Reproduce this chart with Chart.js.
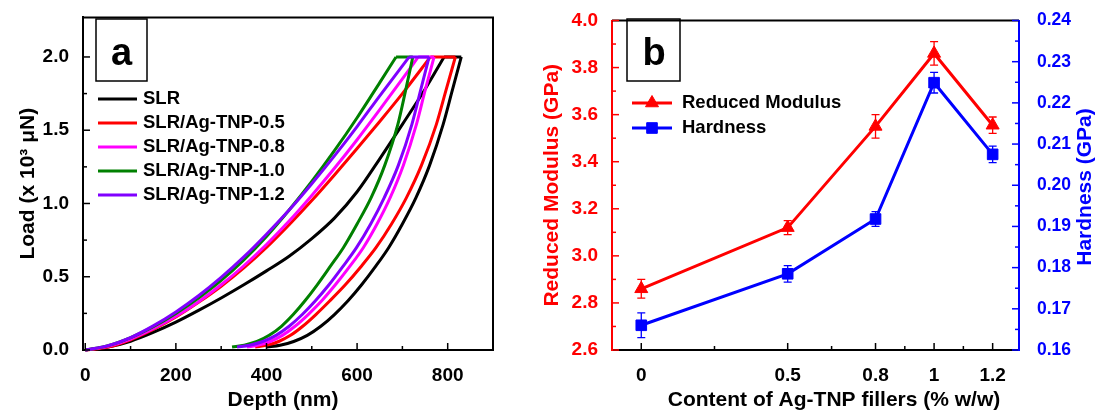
<!DOCTYPE html>
<html>
<head>
<meta charset="utf-8">
<script src="https://cdn.jsdelivr.net/npm/chart.js@4.4.1/dist/chart.umd.min.js"></script>
<style>
body { margin: 0; background: #fff; }
#wrap { position: relative; width: 1095px; height: 413px; }
#panelA { position: absolute; left: 0; top: 0; }
#panelB { position: absolute; left: 530px; top: 0; }
</style>
</head>
<body>
<div id="wrap">
<canvas id="panelA" width="530" height="413"></canvas>
<canvas id="panelB" width="565" height="413"></canvas>
</div>
<script>
// panel a : load-depth curves (depth in nm, load in 10^3 uN)
var samples = ['SLR', 'SLR/Ag-TNP-0.5', 'SLR/Ag-TNP-0.8', 'SLR/Ag-TNP-1.0', 'SLR/Ag-TNP-1.2'];
var sampleColors = ['#000000', '#ff0000', '#ff00ff', '#008000', '#8000ff'];

var loadDepth = [
    [0, 50, 100, 150, 200, 250, 300, 350, 400, 450, 500, 550, 600, 650, 700, 750, 792],
    [0, 50, 100, 150, 200, 250, 300, 350, 400, 450, 500, 550, 600, 650, 700, 762],
    [0, 50, 100, 150, 200, 250, 300, 350, 400, 450, 500, 550, 600, 650, 700, 735],
    [0, 50, 100, 150, 200, 250, 300, 350, 400, 450, 500, 550, 600, 650, 686],
    [0, 50, 100, 150, 200, 250, 300, 350, 400, 450, 500, 550, 600, 650, 715]
];
var loadForce = [
    [0, 0.02, 0.06, 0.12, 0.19, 0.27, 0.355, 0.445, 0.54, 0.64, 0.76, 0.9, 1.08, 1.305, 1.54, 1.78, 2.0],
    [0, 0.02, 0.07, 0.14, 0.225, 0.325, 0.435, 0.56, 0.7, 0.855, 1.02, 1.195, 1.375, 1.56, 1.75, 2.0],
    [0, 0.025, 0.075, 0.145, 0.23, 0.33, 0.445, 0.575, 0.72, 0.88, 1.055, 1.24, 1.435, 1.64, 1.85, 2.0],
    [0, 0.03, 0.085, 0.16, 0.25, 0.355, 0.475, 0.615, 0.775, 0.955, 1.15, 1.36, 1.585, 1.825, 2.0],
    [0, 0.03, 0.085, 0.165, 0.26, 0.37, 0.495, 0.635, 0.79, 0.955, 1.135, 1.325, 1.525, 1.735, 2.0]
];
// unloading starts at the end of the hold at 2.0
var unloadForce = [2.0, 1.77, 1.54, 1.26, 1.04, 0.86, 0.70, 0.567, 0.445, 0.336, 0.242, 0.162, 0.10, 0.058, 0.033, 0.02];
var unloadDepth = [
    [830, 810, 790, 760, 730, 700, 670, 640, 610, 580, 550, 520, 490, 460, 430, 401],
    [817, 796, 775, 742, 709, 676, 642, 608, 574, 540, 509, 480, 453, 427, 401, 375],
    [770, 750, 731, 702, 673, 644, 614, 583, 552, 522, 492, 463, 435, 408, 382, 357],
    [723, 707, 690, 661, 631, 600, 570, 540, 512, 485, 459, 433, 406, 379, 351, 324],
    [759, 740, 721, 691, 660, 630, 599, 568, 538, 508, 479, 450, 421, 392, 363, 335]
];

var depthTicks = [0, 200, 400, 600, 800];
var depthMinor = [100, 300, 500, 700];
var forceTicks = [0, 0.5, 1.0, 1.5, 2.0];
var forceMinor = [0.25, 0.75, 1.25, 1.75];

// panel b : modulus and hardness vs filler content
var filler = [0, 0.5, 0.8, 1.0, 1.2];
var modulus = [2.86, 3.12, 3.55, 3.86, 3.555];
var modulusErr = [0.04, 0.03, 0.05, 0.05, 0.035];
var hardness = [0.166, 0.1785, 0.1918, 0.2249, 0.2075];
var hardnessErr = [0.003, 0.002, 0.0018, 0.0025, 0.002];

var fillerTicks = [0, 0.5, 0.8, 1, 1.2];
var fillerMinor = [0.25, 0.65, 0.9, 1.1];
var modTicks = [2.6, 2.8, 3.0, 3.2, 3.4, 3.6, 3.8, 4.0];
var modMinor = [2.7, 2.9, 3.1, 3.3, 3.5, 3.7, 3.9];
var hardTicks = [0.16, 0.17, 0.18, 0.19, 0.20, 0.21, 0.22, 0.23, 0.24];
var hardMinor = [0.165, 0.175, 0.185, 0.195, 0.205, 0.215, 0.225, 0.235];

var FONT = '"Liberation Sans", Arial, sans-serif';
Chart.defaults.font.family = FONT;
Chart.defaults.font.weight = 'bold';
Chart.defaults.color = '#000';

function pts(xs, ys) {
    return xs.map(function(x, i) { return {x: x, y: ys[i]}; });
}

function tickBuilder(major, minor) {
    return function(scale) {
        scale.ticks = major.concat(minor).sort(function(a, b) { return a - b; })
            .map(function(v) { return {value: v}; });
    };
}

function tickLabel(major, digits) {
    return function(v) {
        if (major.indexOf(v) < 0) return '';
        return digits == null ? String(v) : v.toFixed(digits);
    };
}

// frame, inward ticks, error bars, legend, panel letter, extra titles
var panelDecor = {
    id: 'panelDecor',
    beforeDatasetsDraw: function(chart) {
        var ctx = chart.ctx;
        chart.data.datasets.forEach(function(ds) {
            if (!ds.errors) return;
            var xs = chart.scales.x, ys = chart.scales[ds.yAxisID];
            ctx.save();
            ctx.strokeStyle = ds.borderColor;
            ctx.lineWidth = 1.3;
            ds.data.forEach(function(p, i) {
                var px = xs.getPixelForValue(p.x);
                var top = ys.getPixelForValue(p.y + ds.errors[i]);
                var bot = ys.getPixelForValue(p.y - ds.errors[i]);
                ctx.beginPath();
                ctx.moveTo(px, top); ctx.lineTo(px, bot);
                ctx.moveTo(px - 4, top); ctx.lineTo(px + 4, top);
                ctx.moveTo(px - 4, bot); ctx.lineTo(px + 4, bot);
                ctx.stroke();
            });
            ctx.restore();
        });
    },
    afterDraw: function(chart, args, opts) {
        var ctx = chart.ctx, area = chart.chartArea;
        ctx.save();
        ctx.strokeStyle = '#000';
        ctx.lineWidth = 2;
        ctx.beginPath();
        ctx.moveTo(area.left, area.top);
        ctx.lineTo(area.right, area.top);
        if (opts.closeRight) ctx.lineTo(area.right, area.bottom);
        ctx.stroke();

        Object.keys(chart.scales).forEach(function(id) {
            var s = chart.scales[id];
            ctx.strokeStyle = s.options.border.color;
            ctx.lineWidth = 1.5;
            s.ticks.forEach(function(t) {
                var len = t.label ? 7 : 4;
                var p = s.getPixelForValue(t.value);
                ctx.beginPath();
                if (s.position === 'bottom') { ctx.moveTo(p, area.bottom); ctx.lineTo(p, area.bottom - len); }
                else if (s.position === 'left') { ctx.moveTo(area.left, p); ctx.lineTo(area.left + len, p); }
                else { ctx.moveTo(area.right, p); ctx.lineTo(area.right - len, p); }
                ctx.stroke();
            });
        });

        var b = opts.letter;
        ctx.strokeStyle = '#000';
        ctx.lineWidth = 1.5;
        ctx.strokeRect(b.box[0], b.box[1], b.box[2], b.box[3]);
        ctx.fillStyle = '#000';
        ctx.font = 'bold 38px ' + FONT;
        ctx.textAlign = 'center';
        ctx.textBaseline = 'alphabetic';
        ctx.fillText(b.text, b.x, b.y);

        var lg = opts.legend;
        ctx.font = 'bold ' + lg.size + 'px ' + FONT;
        ctx.textAlign = 'left';
        ctx.textBaseline = 'middle';
        lg.items.forEach(function(it, i) {
            var y = lg.y0 + i * lg.dy;
            ctx.strokeStyle = it.color;
            ctx.fillStyle = it.color;
            ctx.lineWidth = 3;
            ctx.beginPath();
            ctx.moveTo(lg.x0, y); ctx.lineTo(lg.x1, y);
            ctx.stroke();
            if (it.marker) {
                ctx.lineWidth = 1;
                Chart.helpers.drawPoint(ctx, {pointStyle: it.marker, radius: 7.5, rotation: 0, borderWidth: 1}, (lg.x0 + lg.x1) / 2, y);
            }
            ctx.fillStyle = '#000';
            ctx.fillText(it.label, lg.tx, y);
        });

        (opts.texts || []).forEach(function(t) {
            ctx.save();
            ctx.translate(t.x, t.y);
            ctx.rotate(t.rotate || 0);
            ctx.fillStyle = t.color;
            ctx.font = 'bold ' + t.size + 'px ' + FONT;
            ctx.textAlign = 'center';
            ctx.textBaseline = 'middle';
            ctx.fillText(t.text, 0, 0);
            ctx.restore();
        });
        ctx.restore();
    }
};

// ---------- panel a ----------
var curveSets = [];
samples.forEach(function(name, i) {
    var last = loadDepth[i][loadDepth[i].length - 1];
    var common = {
        label: name, borderColor: sampleColors[i], backgroundColor: sampleColors[i],
        borderWidth: 3, pointRadius: 0, fill: false, clip: 4,
        borderJoinStyle: 'round', order: samples.length - i
    };
    curveSets.push(Object.assign({data: pts(loadDepth[i], loadForce[i]), cubicInterpolationMode: 'monotone'}, common));
    curveSets.push(Object.assign({data: pts([last, unloadDepth[i][0]], [2.0, 2.0]), tension: 0}, common));
    curveSets.push(Object.assign({data: pts(unloadDepth[i], unloadForce), cubicInterpolationMode: 'monotone'}, common));
});

new Chart(document.getElementById('panelA'), {
    type: 'line',
    data: {datasets: curveSets},
    options: {
        responsive: false,
        animation: false,
        devicePixelRatio: 1,
        layout: {padding: {top: 16, right: 37, left: 0, bottom: 0}},
        plugins: {
            legend: {display: false},
            tooltip: {enabled: false},
            panelDecor: {
                closeRight: true,
                letter: {text: 'a', box: [96, 19, 51, 62], x: 121.5, y: 65},
                legend: {
                    x0: 98, x1: 137, tx: 143, y0: 99, dy: 24, size: 18.5,
                    items: samples.map(function(s, i) { return {label: s, color: sampleColors[i]}; })
                },
                texts: [
                    {text: 'Depth (nm)', x: 283, y: 400, color: '#000', size: 21}
                ]
            }
        },
        scales: {
            x: {
                type: 'linear', min: -5, max: 900,
                afterBuildTicks: tickBuilder(depthTicks, depthMinor),
                afterFit: function(s) { s.height = 63; },
                grid: {display: false},
                border: {display: true, color: '#000', width: 2},
                ticks: {callback: tickLabel(depthTicks, 0), font: {size: 19, weight: 'bold'}, color: '#000', padding: 6, maxRotation: 0, autoSkip: false}
            },
            y: {
                type: 'linear', min: 0, max: 2.27,
                afterBuildTicks: tickBuilder(forceTicks, forceMinor),
                afterFit: function(s) { s.width = 83; },
                grid: {display: false},
                border: {display: true, color: '#000', width: 2},
                ticks: {callback: tickLabel(forceTicks, 1), font: {size: 19, weight: 'bold'}, color: '#000', padding: 6, autoSkip: false},
                title: {display: true, text: 'Load (x 10³ μN)', font: {size: 21, weight: 'bold'}, color: '#000', padding: {top: 16, bottom: 0}}
            }
        }
    },
    plugins: [panelDecor]
});

// ---------- panel b ----------
new Chart(document.getElementById('panelB'), {
    type: 'line',
    data: {
        datasets: [
            {
                label: 'Reduced Modulus', data: pts(filler, modulus), errors: modulusErr, yAxisID: 'y',
                borderColor: '#ff0000', backgroundColor: '#ff0000', borderWidth: 3,
                pointStyle: 'triangle', pointRadius: 7.5, pointBorderWidth: 1, tension: 0
            },
            {
                label: 'Hardness', data: pts(filler, hardness), errors: hardnessErr, yAxisID: 'y1',
                borderColor: '#0000ff', backgroundColor: '#0000ff', borderWidth: 3,
                pointStyle: 'rect', pointRadius: 7.5, pointBorderWidth: 1, tension: 0
            }
        ]
    },
    options: {
        responsive: false,
        animation: false,
        devicePixelRatio: 1,
        layout: {padding: {top: 16, right: 0, left: 0, bottom: 0}},
        plugins: {
            legend: {display: false},
            tooltip: {enabled: false},
            panelDecor: {
                closeRight: false,
                letter: {text: 'b', box: [97, 19, 53, 62], x: 124, y: 65},
                legend: {
                    x0: 102, x1: 142, tx: 152, y0: 103, dy: 25, size: 18.5,
                    items: [
                        {label: 'Reduced Modulus', color: '#ff0000', marker: 'triangle'},
                        {label: 'Hardness', color: '#0000ff', marker: 'rect'}
                    ]
                },
                texts: [
                    {text: 'Content of Ag-TNP fillers (% w/w)', x: 304, y: 400, color: '#000', size: 21},
                    {text: 'Hardness (GPa)', x: 555, y: 187, color: '#0000ff', size: 21, rotate: -Math.PI / 2}
                ]
            }
        },
        scales: {
            x: {
                type: 'linear', min: -0.1, max: 1.29,
                afterBuildTicks: tickBuilder(fillerTicks, fillerMinor),
                afterFit: function(s) { s.height = 63; },
                grid: {display: false},
                border: {display: true, color: '#000', width: 2},
                ticks: {callback: tickLabel(fillerTicks), font: {size: 19, weight: 'bold'}, color: '#000', padding: 6, maxRotation: 0, autoSkip: false}
            },
            y: {
                type: 'linear', position: 'left', min: 2.6, max: 4.0,
                afterBuildTicks: tickBuilder(modTicks, modMinor),
                afterFit: function(s) { s.width = 82; },
                grid: {display: false},
                border: {display: true, color: '#ff0000', width: 2},
                ticks: {callback: tickLabel(modTicks, 1), font: {size: 19, weight: 'bold'}, color: '#ff0000', padding: 6, autoSkip: false},
                title: {display: true, text: 'Reduced Modulus (GPa)', font: {size: 21, weight: 'bold'}, color: '#ff0000', padding: {top: 10, bottom: 0}}
            },
            y1: {
                type: 'linear', position: 'right', min: 0.16, max: 0.24,
                afterBuildTicks: tickBuilder(hardTicks, hardMinor),
                afterFit: function(s) { s.width = 76; },
                grid: {display: false},
                border: {display: true, color: '#0000ff', width: 2},
                ticks: {callback: tickLabel(hardTicks, 2), font: {size: 17.5, weight: 'bold'}, color: '#0000ff', padding: 10, autoSkip: false}
            }
        }
    },
    plugins: [panelDecor]
});
</script>
</body>
</html>
